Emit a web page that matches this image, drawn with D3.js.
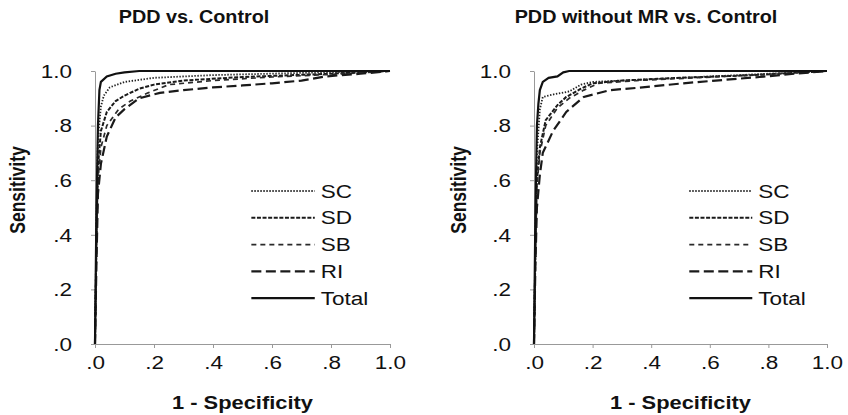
<!DOCTYPE html>
<html lang="en">
<head>
    <meta charset="UTF-8">
    <title>ROC curves</title>
    <style>
        body { margin: 0; background: #fff; }
        text { font-family: "Liberation Sans", Arial, sans-serif; fill: #111; }
    </style>
</head>
<body>
<script src='https://d3js.org/d3.v7.min.js'></script>
<script>
    // tick values shared by both axes
    const ticks = [0, 0.2, 0.4, 0.6, 0.8, 1.0];
    const seriesNames = ["SC", "SD", "SB", "RI", "Total"];
    const panelTitles = ["PDD vs. Control", "PDD without MR vs. Control"];

    // PDD vs. Control : [1 - specificity, sensitivity]
    const pddSC = [[0, 0], [0.005, 0.45], [0.01, 0.75], [0.02, 0.87], [0.03, 0.91], [0.05, 0.94], [0.1, 0.96], [0.2, 0.975], [0.4, 0.985], [0.7, 0.993], [1, 1]];
    const pddSD = [[0, 0], [0.005, 0.4], [0.01, 0.65], [0.02, 0.78], [0.04, 0.85], [0.07, 0.89], [0.1, 0.91], [0.15, 0.935], [0.2, 0.95], [0.3, 0.965], [0.5, 0.978], [0.8, 0.99], [1, 1]];
    const pddSB = [[0, 0], [0.005, 0.35], [0.01, 0.6], [0.02, 0.72], [0.04, 0.8], [0.08, 0.86], [0.12, 0.89], [0.18, 0.92], [0.25, 0.95], [0.4, 0.965], [0.6, 0.978], [0.85, 0.99], [1, 1]];
    const pddRI = [[0, 0], [0.005, 0.3], [0.01, 0.55], [0.02, 0.66], [0.04, 0.76], [0.07, 0.83], [0.1, 0.86], [0.15, 0.9], [0.22, 0.92], [0.3, 0.93], [0.4, 0.94], [0.5, 0.947], [0.6, 0.955], [0.7, 0.965], [0.78, 0.98], [0.9, 0.99], [1, 1]];
    const pddTotal = [[0, 0], [0.005, 0.5], [0.01, 0.8], [0.015, 0.93], [0.02, 0.96], [0.04, 0.98], [0.07, 0.99], [0.1, 0.995], [0.15, 1], [1, 1]];

    // PDD without MR vs. Control
    const noMrSC = [[0, 0], [0.005, 0.4], [0.01, 0.7], [0.02, 0.86], [0.03, 0.905], [0.07, 0.915], [0.12, 0.925], [0.16, 0.95], [0.2, 0.96], [0.4, 0.97], [0.6, 0.98], [0.8, 0.99], [1, 1]];
    const noMrSD = [[0, 0], [0.005, 0.35], [0.01, 0.6], [0.02, 0.72], [0.04, 0.82], [0.08, 0.875], [0.11, 0.905], [0.16, 0.935], [0.2, 0.955], [0.3, 0.965], [0.5, 0.975], [0.75, 0.985], [1, 1]];
    const noMrSB = [[0, 0], [0.005, 0.35], [0.01, 0.58], [0.02, 0.7], [0.04, 0.8], [0.08, 0.865], [0.12, 0.9], [0.17, 0.93], [0.22, 0.955], [0.35, 0.965], [0.55, 0.975], [0.8, 0.988], [1, 1]];
    const noMrRI = [[0, 0], [0.005, 0.3], [0.01, 0.5], [0.02, 0.62], [0.03, 0.7], [0.065, 0.78], [0.11, 0.85], [0.17, 0.905], [0.26, 0.93], [0.37, 0.94], [0.51, 0.955], [0.62, 0.965], [0.77, 0.978], [0.89, 0.99], [1, 1]];
    const noMrTotal = [[0, 0], [0.005, 0.5], [0.01, 0.8], [0.015, 0.88], [0.02, 0.93], [0.03, 0.96], [0.05, 0.975], [0.08, 0.98], [0.1, 0.995], [0.12, 1], [1, 1]];

    const panelData = [
        [pddSC, pddSD, pddSB, pddRI, pddTotal],
        [noMrSC, noMrSD, noMrSB, noMrRI, noMrTotal]
    ];

    // line styles per series
    const styles = {
        SC: {dash: "1.4,1.6", width: 1.8, color: "#222"},
        SD: {dash: "4,1.6", width: 2, color: "#1a1a1a"},
        SB: {dash: "5,4", width: 1.7, color: "#2a2a2a"},
        RI: {dash: "10,4.5", width: 2.2, color: "#1a1a1a"},
        Total: {dash: null, width: 2.2, color: "#111"}
    };

    const stretch = 1.25; // the original lettering is widened
    const fmt = d => d === 1 ? "1.0" : d3.format(".1f")(d).replace(/^0/, "");

    const svg = d3.select("body")
        .append("svg")
        .attr("width", 848)
        .attr("height", 415);

    function label(g, x, y, txt, opts) {
        const k = opts.stretch || stretch;
        const t = g.append("g")
            .attr("transform", `translate(${x},${y}) rotate(${opts.rotate || 0}) scale(${opts.rotate ? 1 : k},${opts.rotate ? k : 1})`)
            .append("text")
            .attr("text-anchor", opts.anchor || "middle")
            .attr("font-size", opts.size || 17)
            .attr("font-weight", opts.bold ? "bold" : "normal")
            .text(txt);
        return t;
    }

    function drawPanel(idx, left, right, titleX, ylabelX) {
        const x = d3.scaleLinear().domain([0, 1]).range([left, right]);
        const y = d3.scaleLinear().domain([0, 1]).range([344, 71]);
        const g = svg.append("g");

        const xAxis = g.append("g")
            .attr("transform", "translate(0,344)")
            .call(d3.axisBottom(x).tickValues(ticks).tickSize(4).tickSizeOuter(0).tickFormat(fmt));
        xAxis.selectAll("text")
            .attr("y", 25).attr("dy", 0)
            .attr("font-size", 18)
            .attr("transform", `scale(${stretch},1)`);

        const yAxis = g.append("g")
            .attr("transform", `translate(${left},0)`)
            .call(d3.axisLeft(y).tickValues(ticks).tickSize(4).tickSizeOuter(0).tickFormat(fmt));
        yAxis.selectAll("text")
            .attr("x", -23 / stretch).attr("dy", "0.35em")
            .attr("font-size", 18)
            .attr("transform", `scale(${stretch},1)`);

        g.selectAll(".domain, .tick line").attr("stroke", "#999").attr("stroke-width", 1);
        g.selectAll(".tick text").attr("fill", "#111").attr("font-family", "Liberation Sans, Arial, sans-serif");

        const line = d3.line()
            .x(d => x(d[0]))
            .y(d => y(d[1]));

        panelData[idx].forEach((data, i) => {
            const s = styles[seriesNames[i]];
            g.append("path")
                .datum(data)
                .attr("fill", "none")
                .attr("stroke", s.color)
                .attr("stroke-width", s.width)
                .attr("stroke-dasharray", s.dash)
                .attr("d", line);
        });

        // legend
        seriesNames.forEach((name, i) => {
            const s = styles[name];
            const ly = 191 + i * 26.8;
            g.append("line")
                .attr("x1", x(0.53)).attr("x2", x(0.745))
                .attr("y1", ly).attr("y2", ly)
                .attr("stroke", s.color)
                .attr("stroke-width", s.width)
                .attr("stroke-dasharray", s.dash);
            label(g, x(0.765), ly + 6.5, name, {anchor: "start", size: 18});
        });

        label(g, titleX, 23, panelTitles[idx], {bold: true, size: 18, stretch: 1.1});
        label(g, (left + right) / 2, 409, "1 - Specificity", {bold: true, size: 17.5});
        label(g, ylabelX, 190, "Sensitivity", {bold: true, size: 17.5, rotate: -90});
    }

    drawPanel(0, 95, 390, 194, 25);
    drawPanel(1, 534, 827, 646, 466);
</script>
</body>
</html>
